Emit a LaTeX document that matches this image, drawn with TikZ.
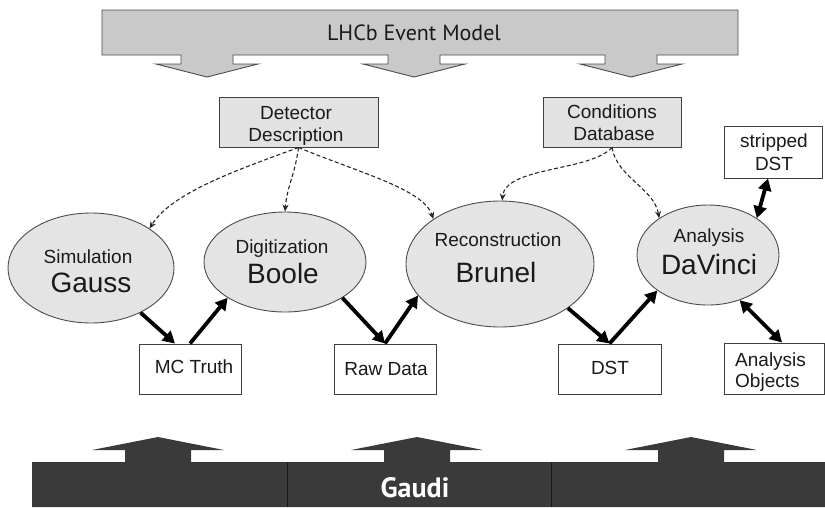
\documentclass[tikz,border=0pt]{standalone}
\usepackage{fontspec}
\setmainfont{Liberation Sans}
\newfontfamily\titlefont{PT Sans}
\usetikzlibrary{shapes.geometric,arrows.meta}
\definecolor{barg}{HTML}{C9C9C9}
\definecolor{ellg}{HTML}{E4E4E4}
\definecolor{boxg}{HTML}{E2E2E2}
\definecolor{gaudig}{HTML}{3A3A3A}
\definecolor{txt}{HTML}{1A1A1A}
\newcommand\fsm{\fontsize{19}{22}\selectfont}
\newcommand\fbig{\fontsize{28}{32}\selectfont}
\begin{document}
\begin{tikzpicture}[x=1pt,y=-1pt,
  ell/.style={ellipse, draw=black!70, line width=0.9pt, fill=ellg, inner sep=0pt},
  box/.style={rectangle, draw=black!75, line width=1pt, fill=white, inner sep=0pt},
  gbox/.style={box, fill=boxg},
  lbl/.style={anchor=base, font=\fsm, text=txt, inner sep=0pt},
  bigname/.style={anchor=base, font=\fbig, text=txt, inner sep=0pt},
  flow/.style={line width=3.8pt, black, -{Triangle[length=12pt,width=13pt]}},
  flowtwo/.style={line width=3.8pt, black, {Triangle[length=12pt,width=13pt]}-{Triangle[length=12pt,width=13pt]}},
  dep/.style={draw=black!85, line width=1.1pt, dash pattern=on 4pt off 2.5pt, -{Stealth[length=7pt,width=6pt]}}
]
\useasboundingbox (0,0) rectangle (825,507);

% top bar (LHCb Event Model)
\draw[fill=barg, draw=black!70, line width=0.9pt]
  (102,10) -- (738,10) -- (738,55)
  -- (657,55) -- (657,64) -- (682,64) -- (631,77) -- (580,64) -- (605,64) -- (605,55)
  -- (440,55) -- (440,64) -- (465,64) -- (414,77) -- (363,64) -- (388,64) -- (388,55)
  -- (233,55) -- (233,64) -- (258,64) -- (207,77) -- (156,64) -- (181,64) -- (181,55)
  -- (102,55) -- cycle;
\node[anchor=base, font=\titlefont\fontsize{22}{24}\selectfont, text=txt, inner sep=0pt] (lhcb) at (414,40) {LHCb Event Model};

% bottom bar (Gaudi)
\fill[gaudig]
  (32,462)
  -- (125,462) -- (125,450) -- (92,450) -- (158,437) -- (224,450) -- (191,450) -- (191,462)
  -- (384,462) -- (384,450) -- (351,450) -- (417,437) -- (483,450) -- (450,450) -- (450,462)
  -- (658,462) -- (658,450) -- (625,450) -- (691,437) -- (757,450) -- (724,450) -- (724,462)
  -- (825,462) -- (825,507) -- (32,507) -- cycle;
\draw[black!90, line width=0.8pt] (287,462) -- (287,507);
\draw[black!90, line width=0.8pt] (551,462) -- (551,507);
\node[anchor=base, font=\titlefont\bfseries\fontsize{28}{30}\selectfont, text=white, inner sep=0pt] (gaudi) at (415,497) {Gaudi};

% service boxes
\node[gbox, minimum width=159pt, minimum height=50pt] (detdesc) at (298.5,122) {};
\node[gbox, minimum width=138pt, minimum height=50pt] (conddb) at (612,122) {};
\node[lbl] (ddt1) at (296,119) {Detector};
\node[lbl] (ddt2) at (296,141) {Description};
\node[lbl] (cdt1) at (612,118) {Conditions};
\node[lbl] (cdt2) at (614,140) {Database};

% applications
\node[ell, minimum width=166pt, minimum height=110pt] (gauss) at (91,268) {};
\node[ell, minimum width=162pt, minimum height=100pt] (boole) at (285,262) {};
\node[ell, minimum width=188pt, minimum height=126pt] (brunel) at (500,264) {};
\node[ell, minimum width=142pt, minimum height=100pt] (davinci) at (708,255) {};
\node[lbl] (simt) at (88,263) {Simulation};
\node[bigname] (gausst) at (91,292) {Gauss};
\node[lbl] (digt) at (282,253) {Digitization};
\node[bigname] (boolet) at (283,283) {Boole};
\node[lbl] (rect) at (498,246) {Reconstruction};
\node[bigname] (brunelt) at (496,282) {Brunel};
\node[lbl] (anat) at (709,242) {Analysis};
\node[bigname] (davincit) at (709,274) {DaVinci};

% data boxes
\node[box, minimum width=102pt, minimum height=50pt] (mct) at (190,369) {};
\node[box, minimum width=102pt, minimum height=50pt] (raw) at (385,369) {};
\node[box, minimum width=103pt, minimum height=50pt] (dst) at (609.5,369) {};
\node[box, minimum width=100pt, minimum height=51pt] (ao) at (774,368.5) {};
\node[box, minimum width=98pt, minimum height=52pt] (sdst) at (773,152) {};
\node[lbl] (mctt) at (194,373) {MC Truth};
\node[lbl] (rawt) at (386,375) {Raw Data};
\node[lbl] (dstt) at (610,374) {DST};
\node[lbl, anchor=base west] (aot1) at (735,366) {Analysis};
\node[lbl, anchor=base west] (aot2) at (735,387) {Objects};
\node[lbl] (sdstt1) at (774,147) {stripped};
\node[lbl] (sdstt2) at (774,170) {DST};

% data flow
\draw[flow] (gauss.-42) -- ([xshift=-15pt]mct.north);
\draw[flow] (mct.north) -- (boole.-148);
\draw[flow] (boole.-32) -- (raw.north);
\draw[flow] (raw.north) -- (brunel.-159);
\draw[flow] (brunel.-33) -- (dst.north);
\draw[flow] (dst.north) -- (davinci.-145);
\draw[flowtwo] (davinci.-55) -- ([xshift=8pt]ao.north);
\draw[flowtwo] (davinci.37) -- ([xshift=-5pt]sdst.south);

% service dependencies
\draw[dep] (detdesc.south) .. controls +(-60,22) and +(22,-36) .. (gauss.34);
\draw[dep] (detdesc.south) .. controls +(-3,25) and +(2,-25) .. (boole.north);
\draw[dep] (detdesc.south) .. controls +(60,25) and +(-10,-30) .. (brunel.146);
\draw[dep] (conddb.south) .. controls +(-22,24) and +(3,-34) .. (brunel.88);
\draw[dep] (conddb.south) .. controls +(5,30) and +(-5,-30) .. (davinci.143);
\end{tikzpicture}
\end{document}
